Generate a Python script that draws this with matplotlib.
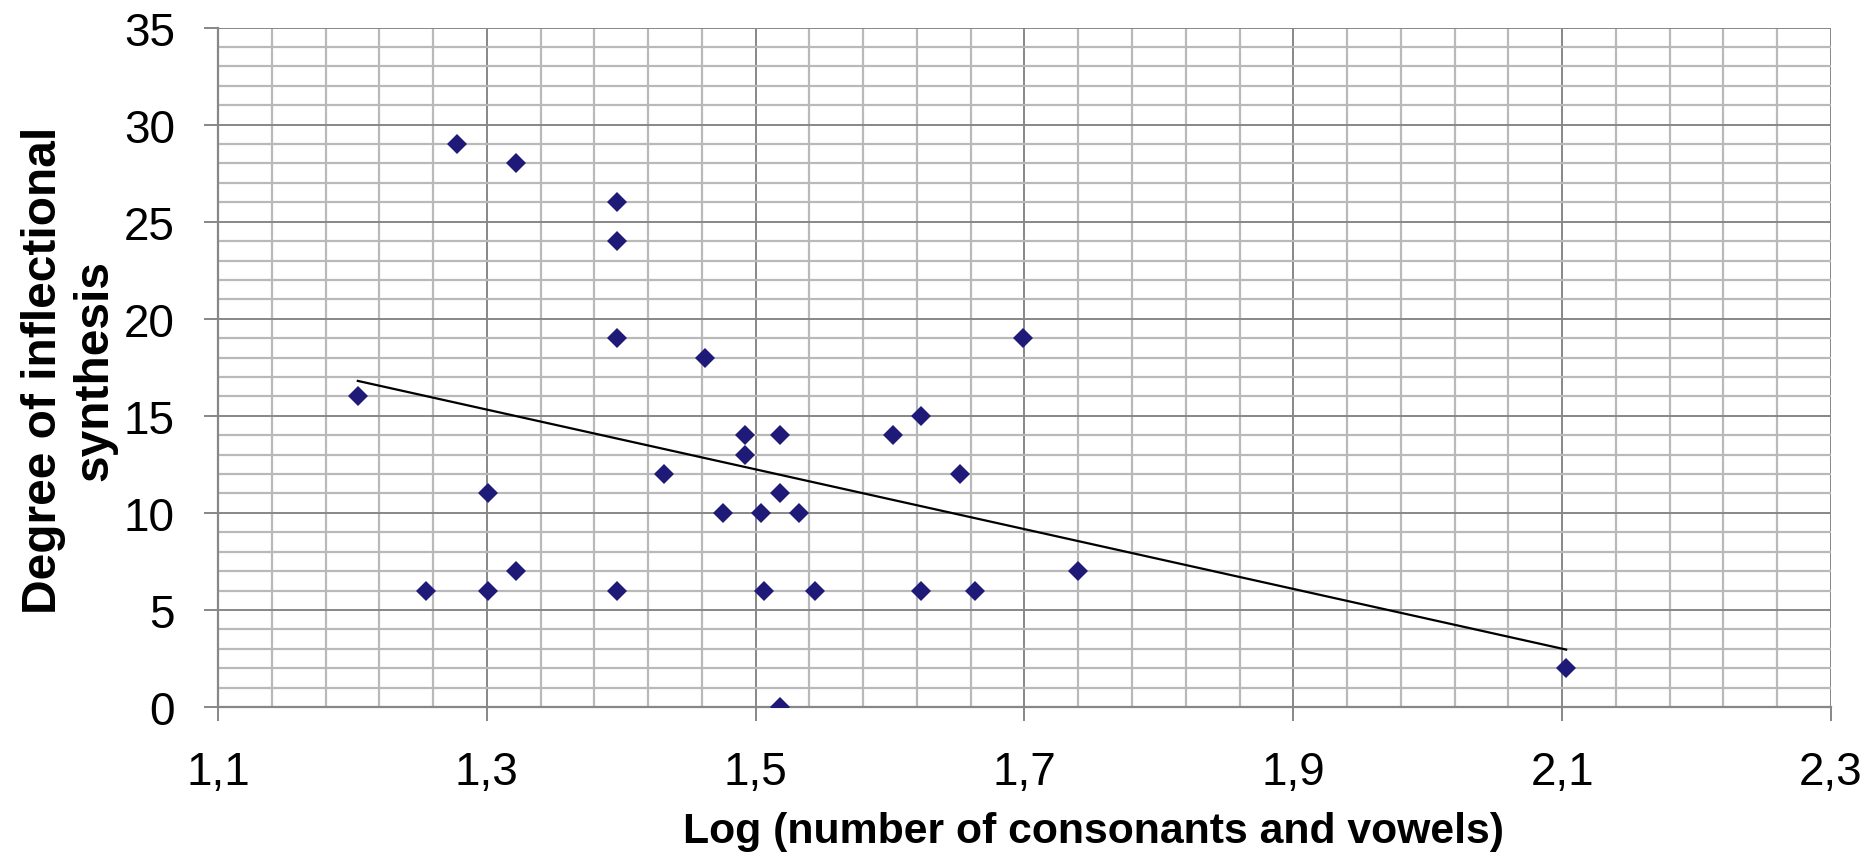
import numpy as np
import matplotlib
matplotlib.use('Agg')
import matplotlib.pyplot as plt
from matplotlib.ticker import MultipleLocator, FixedLocator, FixedFormatter

plt.rcParams['font.family'] = ['Liberation Sans', 'DejaVu Sans']

# log(number of consonants and vowels) vs degree of inflectional synthesis
log_segments = [1.204, 1.255, 1.278, 1.301, 1.301, 1.322, 1.322, 1.397, 1.397,
                1.397, 1.397, 1.432, 1.462, 1.476, 1.492, 1.492, 1.504, 1.506,
                1.518, 1.518, 1.518, 1.532, 1.544, 1.602, 1.623, 1.623, 1.652,
                1.663, 1.699, 1.740, 2.103]
synthesis = [16, 6, 29, 11, 6, 28, 7, 26, 24, 19, 6, 12, 18, 10, 14, 13, 10, 6,
             14, 11, 0, 10, 6, 14, 15, 6, 12, 6, 19, 7, 2]

x_ticks = [1.1, 1.3, 1.5, 1.7, 1.9, 2.1, 2.3]
x_tick_labels = ['1,1', '1,3', '1,5', '1,7', '1,9', '2,1', '2,3']
y_ticks = [0, 5, 10, 15, 20, 25, 30, 35]

NAVY = '#1f1a78'
MAJOR = '#878787'
MINOR = '#b9b9b9'

fig = plt.figure(figsize=(18.7, 8.54), dpi=100)
ax = fig.add_axes([0.1166, 0.171, 0.9791 - 0.1166, 0.9665 - 0.171])

x = np.array(log_segments)
y = np.array(synthesis)

# linear trendline over the data range
slope, icept = np.polyfit(x, y, 1)
xf = np.array([x.min(), x.max()])
ax.plot(xf, slope * xf + icept, color='black', linewidth=1.6, zorder=4)

ax.plot(x, y, linestyle='none', marker='D', markersize=10.2,
        color=NAVY, markeredgewidth=0, zorder=5)

ax.set_xlim(1.1, 2.3)
ax.set_ylim(0, 35)

ax.xaxis.set_major_locator(FixedLocator(x_ticks))
ax.xaxis.set_major_formatter(FixedFormatter(x_tick_labels))
ax.xaxis.set_minor_locator(MultipleLocator(0.04, offset=0.02))
ax.yaxis.set_major_locator(FixedLocator(y_ticks))
ax.yaxis.set_minor_locator(MultipleLocator(1))

ax.grid(True, which='minor', color=MINOR, linewidth=1.6, zorder=0)
ax.grid(True, which='major', color=MAJOR, linewidth=1.4, zorder=1)
ax.set_axisbelow(True)

for side in ('top', 'right'):
    ax.spines[side].set_visible(False)
for side in ('left', 'bottom'):
    ax.spines[side].set_color(MAJOR)
    ax.spines[side].set_linewidth(1.6)

ax.tick_params(which='major', direction='out', length=10, width=1.4,
               color=MAJOR, labelsize=33, labelcolor='black')
ax.tick_params(axis='x', which='major', pad=21)
ax.tick_params(axis='y', which='major', pad=21)
ax.tick_params(which='minor', length=0)

fig.text(0.585, 11 / 854, 'Log (number of consonants and vowels)',
         ha='center', va='baseline', fontsize=30.8, fontweight='bold')
fig.text(0.037, 0.566, 'Degree of inflectional\nsynthesis', rotation=90,
         ha='center', va='center', multialignment='center',
         fontsize=34.5, fontweight='bold', linespacing=1.2)

fig.savefig('out.png', dpi=100)
